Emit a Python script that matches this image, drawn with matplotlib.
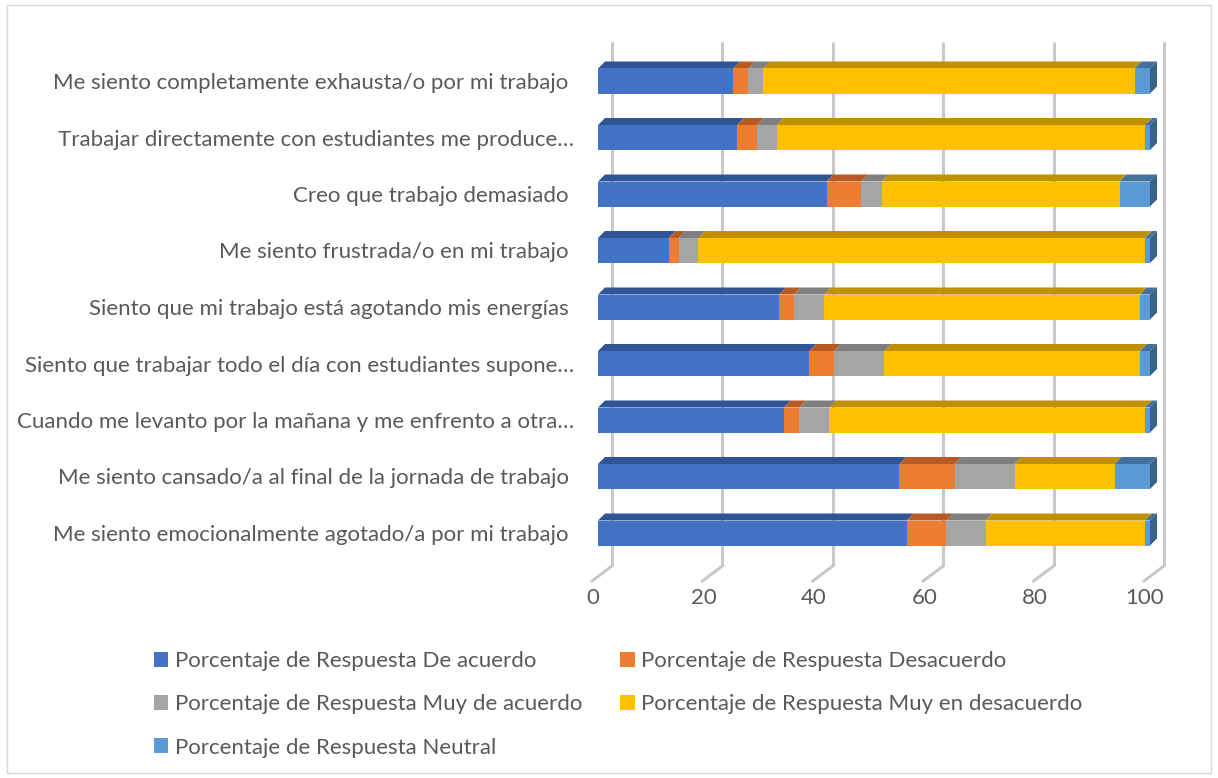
import numpy as np
import matplotlib
matplotlib.use('Agg')
import matplotlib.pyplot as plt
from matplotlib.patches import Polygon, Rectangle

# datos (de arriba hacia abajo, como en la figura)
preguntas = [
    "Me siento completamente exhausta/o por mi trabajo ",
    "Trabajar directamente con estudiantes me produce…",
    "Creo que trabajo demasiado ",
    "Me siento frustrada/o en mi trabajo ",
    "Siento que mi trabajo está agotando mis energías ",
    "Siento que trabajar todo el día con estudiantes supone…",
    "Cuando me levanto por la mañana y me enfrento a otra…",
    "Me siento cansado/a al final de la jornada de trabajo ",
    "Me siento emocionalmente agotado/a por mi trabajo ",
]
de_acuerdo = [24.5, 25.2, 41.4, 12.8, 32.8, 38.3, 33.7, 54.6, 55.9]
desacuerdo = [2.7, 3.6, 6.3, 1.8, 2.7, 4.5, 2.8, 10.0, 7.2]
muy_de_acuerdo = [2.7, 3.6, 3.7, 3.6, 5.5, 9.1, 5.4, 10.9, 7.1]
muy_en_desacuerdo = [67.3, 66.7, 43.1, 80.9, 57.2, 46.3, 57.2, 18.1, 28.9]
neutral = [2.8, 0.9, 5.5, 0.9, 1.8, 1.8, 0.9, 6.4, 0.9]
ticks_x = [0, 20, 40, 60, 80, 100]

series = [
    ("Porcentaje de Respuesta De acuerdo", de_acuerdo, '#4472C4', '#2F5597'),
    ("Porcentaje de Respuesta Desacuerdo", desacuerdo, '#ED7D31', '#B85A22'),
    ("Porcentaje de Respuesta Muy de acuerdo", muy_de_acuerdo, '#A5A5A5', '#7F7F7F'),
    ("Porcentaje de Respuesta Muy en desacuerdo", muy_en_desacuerdo, '#FFC000', '#C09000'),
    ("Porcentaje de Respuesta Neutral", neutral, '#5B9BD5', '#41719C'),
]

FONT = ['Lato', 'DejaVu Sans']
TXT = '#595959'
FS = 16

W, H = 1218, 778
fig = plt.figure(figsize=(W / 100, H / 100), dpi=100)
fig.patches.append(Rectangle((0.006, 0.006), 0.988, 0.988, transform=fig.transFigure,
                             fill=False, edgecolor='#d9d9d9', lw=1))

# escala en pixeles
x0_px, x1_px = 598, 1150
top_px, bot_px = 81, 533
xs = (x1_px - x0_px) / 100.0
ys = (bot_px - top_px) / 8.0
pad = 0.65
ax = fig.add_axes([x0_px / W, (H - (bot_px + pad * ys)) / H,
                   (x1_px - x0_px) / W, (8 + 2 * pad) * ys / H])
ax.set_xlim(0, 100)
ax.set_ylim(-pad, 8 + pad)
for s in ax.spines.values():
    s.set_visible(False)
ax.set_xticks([])

def ypx(p):
    return (bot_px - p) / ys

# rejilla 3D
gdx = 14 / xs
for t in ticks_x:
    ax.plot([t + gdx, t + gdx], [ypx(42), ypx(566)], color='#c8c8c8', lw=2.2,
            clip_on=False, zorder=0, solid_capstyle='butt')
    ax.plot([t + gdx, t - 6 / xs], [ypx(566), ypx(581)], color='#c8c8c8', lw=2.2,
            clip_on=False, zorder=0)
    ax.text(t - 5 / xs, ypx(598), str(t), ha='center', va='center',
            fontsize=FS, color=TXT, family=FONT)

n = len(preguntas)
ypos = np.arange(n)[::-1]
bh = 25 / ys
dx, dy = 7 / xs, 7 / ys

left = np.zeros(n)
handles = []
for nombre, vals, col, dark in series:
    vals = np.array(vals)
    b = ax.barh(ypos, vals, left=left, height=bh, color=col, label=nombre,
                zorder=2)
    handles.append(b)
    for i in range(n):
        l, r = left[i], left[i] + vals[i]
        yt = ypos[i] + bh / 2
        ax.add_patch(Polygon([(l, yt), (r, yt), (r + dx, yt + dy), (l + dx, yt + dy)],
                             closed=True, facecolor=dark, edgecolor='none',
                             zorder=1.5, clip_on=False))
    left = left + vals

# cara derecha de cada barra
for i in range(n):
    yb = ypos[i] - bh / 2
    yt = ypos[i] + bh / 2
    r = left[i]
    ax.add_patch(Polygon([(r, yb), (r, yt), (r + dx, yt + dy), (r + dx, yb + dy)],
                         closed=True, facecolor='#3A6186', edgecolor='none',
                         zorder=1.6, clip_on=False))

ax.set_yticks(ypos)
ax.set_yticklabels(preguntas, fontsize=FS, color=TXT, family=FONT)
ax.tick_params(axis='y', length=0, pad=17)

orden = [0, 2, 4, 1, 3]
leg = fig.legend([handles[k] for k in orden], [series[k][0] for k in orden],
                 ncol=2, loc='upper left', bbox_to_anchor=(134 / W, 1 - 631 / H),
                 frameon=False, handlelength=0.65, handleheight=0.65,
                 handletextpad=0.3, columnspacing=1.7, labelspacing=1.05,
                 prop={'family': FONT, 'size': FS})
for t in leg.get_texts():
    t.set_color(TXT)

fig.savefig('out.png', dpi=100)
